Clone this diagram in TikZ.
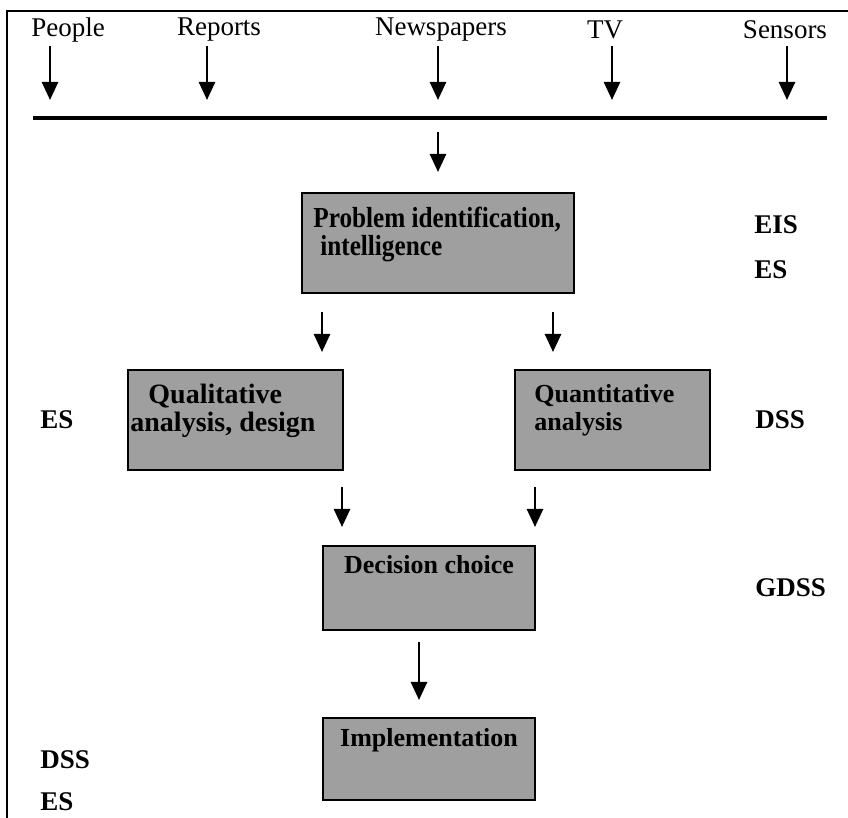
\documentclass[tikz,border=0pt]{standalone}
\usepackage{fontspec}
\setmainfont{Liberation Serif}
\usetikzlibrary{arrows.meta}

\tikzset{
  flow/.style={-{Triangle[length=9pt,width=8pt]}, line width=1.3pt},
  stage/.style={draw, line width=1.3pt, fill=gray!75, inner sep=0pt, outer sep=0pt},
  stagetext/.style={inner sep=0pt, align=left, anchor=north west},
  source/.style={font=\fontsize{13.5}{15}\selectfont, inner sep=0pt},
  tool/.style={font=\fontsize{13.5}{15}\selectfont\bfseries, inner sep=0pt, anchor=west},
}

\begin{document}
\begin{tikzpicture}[x=0.5pt, y=-0.5pt]
\useasboundingbox (0,0) rectangle (848,818);

% frame (top and left only)
\draw[line width=1.3pt] (7,818) -- (7,11) -- (848,11);

% information sources
\node[source] (people) at (68,30) {People};
\node[source] (reports) at (219,30) {Reports};
\node[source] (news) at (441,30) {Newspapers};
\node[source] (tv) at (605,30) {TV};
\node[source] (sensors) at (785,30) {Sensors};

\foreach \ax in {50,207,438,612,787}
  \draw[flow] (\ax,46) -- (\ax,100);

% collecting line
\coordinate (bus-l) at (33,118);
\coordinate (bus-r) at (827,118);
\draw[line width=2.2pt] (bus-l) -- (bus-r);

% decision stages
\node[stage, minimum width=136pt, minimum height=50pt] (prob) at (438,243) {};
\node[stage, minimum width=107.5pt, minimum height=50pt] (qual) at (235.5,420) {};
\node[stage, minimum width=97.5pt, minimum height=50pt] (quant) at (612.5,420) {};
\node[stage, minimum width=106pt, minimum height=42pt] (dec) at (429,588) {};
\node[stage, minimum width=106pt, minimum height=41pt] (impl) at (429,759) {};

\node[stagetext, xscale=0.87, transform shape, font=\fontsize{14.5}{14}\selectfont\bfseries]
  (prob-t) at ([xshift=5.5pt, yshift=-7pt]prob.north west)
  {Problem identification,\\\hspace{4pt}intelligence};
\node[stagetext, font=\fontsize{14}{14}\selectfont\bfseries]
  (qual-t) at ([xshift=1pt, yshift=-7pt]qual.north west)
  {\hspace{9pt}Qualitative\\analysis, design};
\node[stagetext, font=\fontsize{13}{14}\selectfont\bfseries]
  (quant-t) at ([xshift=9.5pt, yshift=-7pt]quant.north west)
  {Quantitative\\analysis};
\node[stagetext, anchor=north, font=\fontsize{13}{14}\selectfont\bfseries]
  (dec-t) at ([yshift=-4.5pt]dec.north) {Decision choice};
\node[stagetext, anchor=north, font=\fontsize{13}{14}\selectfont\bfseries]
  (impl-t) at ([yshift=-5pt]impl.north) {Implementation};

% flows
\draw[flow, shorten <=14*0.5pt, shorten >=21*0.5pt] (prob.north |- bus-l) -- (prob.north);
\draw[flow, shorten <=19*0.5pt, shorten >=18*0.5pt] ([xshift=10pt]prob.south west) -- ([xshift=-10.5pt]qual.north east);
\draw[flow, shorten <=19*0.5pt, shorten >=18*0.5pt] ([xshift=-10.5pt]prob.south east) -- ([xshift=19pt]quant.north west);
\draw[flow, shorten <=17*0.5pt, shorten >=19*0.5pt] ([xshift=-0.5pt]qual.south east) -- ([xshift=9.5pt]dec.north west);
\draw[flow, shorten <=17*0.5pt, shorten >=19*0.5pt] ([xshift=10pt]quant.south west) -- (dec.north east);
\draw[flow, shorten <=12*0.5pt, shorten >=18*0.5pt] ([xshift=-5pt]dec.south) -- ([xshift=-5pt]impl.north);

% supporting systems
\node[tool] (eis) at (754,225) {EIS};
\node[tool] (es-r) at (754,270) {ES};
\node[tool] (es-l) at (40,420) {ES};
\node[tool] (dss-r) at (755,420) {DSS};
\node[tool] (gdss) at (755,588) {GDSS};
\node[tool] (dss-l) at (40,760) {DSS};
\node[tool] (es-b) at (40,802) {ES};
\end{tikzpicture}
\end{document}
